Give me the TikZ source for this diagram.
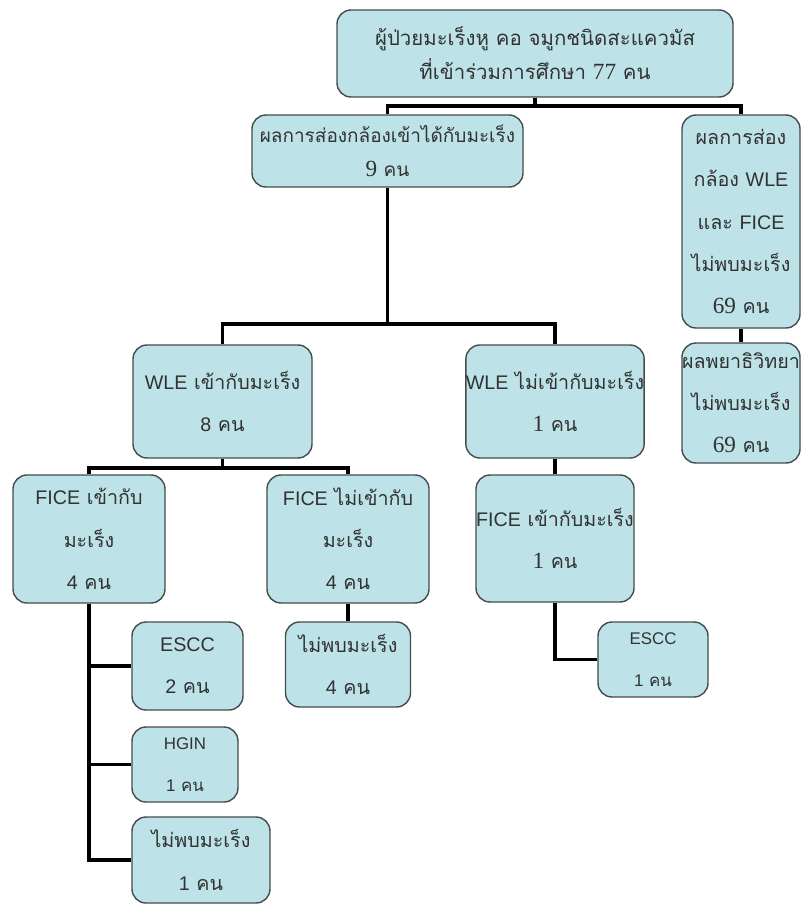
\documentclass[tikz,border=0pt]{standalone}
\usepackage{fontspec}
\usepackage{tikz}
\setmainfont[Script=Thai]{Loma}
\newfontfamily\latsans{Liberation Sans}
\newfontfamily\latserif{Liberation Serif}
\newcommand{\lat}[1]{{\latsans #1}}
\newcommand{\numsr}[1]{{\latserif\fontsize{16.5}{20}\selectfont #1}}
\definecolor{boxfill}{RGB}{189,227,232}
\definecolor{boxline}{RGB}{70,75,78}
\definecolor{boxtext}{RGB}{50,50,50}

\begin{document}
\begin{tikzpicture}[x=0.025cm,y=-0.025cm,
  box/.style 2 args={draw=boxline,line width=1pt,fill=boxfill,rounded corners=0.35cm,
    minimum width=#1*0.025cm,minimum height=#2*0.025cm,inner sep=0pt,
    align=center,text=boxtext,font=\fontsize{14}{30}\selectfont},
  tight/.style={font=\fontsize{14.5}{24}\selectfont},
  small/.style={font=\fontsize{12}{30}\selectfont},
  link/.style={draw=black,line width=2.8pt}]
\useasboundingbox (0,0) rectangle (808,905);
% top
\node[box={396}{87},tight] (root) at (535,53.5)
  {ผู้ป่วยมะเร็งหู คอ จมูกชนิดสะแควมัส\\ที่เข้าร่วมการศึกษา \numsr{77} คน};
\node[box={271}{72},font=\fontsize{13.5}{24}\selectfont] (pos) at (387.5,151)
  {ผลการส่องกล้องเข้าได้กับมะเร็ง\\\numsr{9} คน};
\node[box={118}{213}] (neg) at (741,221.5)
  {ผลการส่อง\\กล้อง \lat{WLE}\\และ \lat{FICE}\\ไม่พบมะเร็ง\\\numsr{69} คน};
\node[box={118}{120}] (patho) at (741,403)
  {ผลพยาธิวิทยา\\ไม่พบมะเร็ง\\\numsr{69} คน};
% WLE
\node[box={179}{113}] (wleyes) at (222.5,401.5)
  {\lat{WLE} เข้ากับมะเร็ง\\\lat{8} คน};
\node[box={175}{113}] (wleno) at (555,401.5)
  {\lat{WLE} ไม่เข้ากับมะเร็ง\\\numsr{1} คน};
% FICE
\node[box={152}{128}] (ficeyes) at (89,539)
  {\lat{FICE} เข้ากับ\\มะเร็ง\\\lat{4} คน};
\node[box={162}{128}] (ficeno) at (348,539)
  {\lat{FICE} ไม่เข้ากับ\\มะเร็ง\\\lat{4} คน};
\node[box={158}{127}] (ficeone) at (555,538.5)
  {\lat{FICE} เข้ากับมะเร็ง\\\numsr{1} คน};
% results
\node[box={111}{88}] (escc) at (187.5,666)
  {\lat{ESCC}\\\lat{2} คน};
\node[box={106}{75},small] (hgin) at (185,764.5)
  {\lat{HGIN}\\\lat{1} คน};
\node[box={138}{86}] (noneone) at (201,860)
  {ไม่พบมะเร็ง\\\lat{1} คน};
\node[box={125}{85}] (nonefour) at (348,664.5)
  {ไม่พบมะเร็ง\\\lat{4} คน};
\node[box={110}{75},small] (esccone) at (653,659.5)
  {\lat{ESCC}\\\lat{1} คน};
% links
\draw[link] (root.south) -- ++(0,8) -| (pos.north);
\draw[link] (root.south) -- ++(0,8) -| (neg.north);
\draw[link] (neg.south) -- (patho.north);
\draw[link] (pos.south) -- ++(0,136) -| (wleyes.north);
\draw[link] (pos.south) -- ++(0,136) -| (wleno.north);
\draw[link] (wleyes.south) -- ++(0,9) -| (ficeyes.north);
\draw[link] (wleyes.south) -- ++(0,9) -| (ficeno.north);
\draw[link] (wleno.south) -- (ficeone.north);
\draw[link] (ficeyes.south) |- (escc.west);
\draw[link] (ficeyes.south) |- (hgin.west);
\draw[link] (ficeyes.south) |- (noneone.west);
\draw[link] (ficeno.south) -- (nonefour.north);
\draw[link] (ficeone.south) |- (esccone.west);
\end{tikzpicture}
\end{document}
